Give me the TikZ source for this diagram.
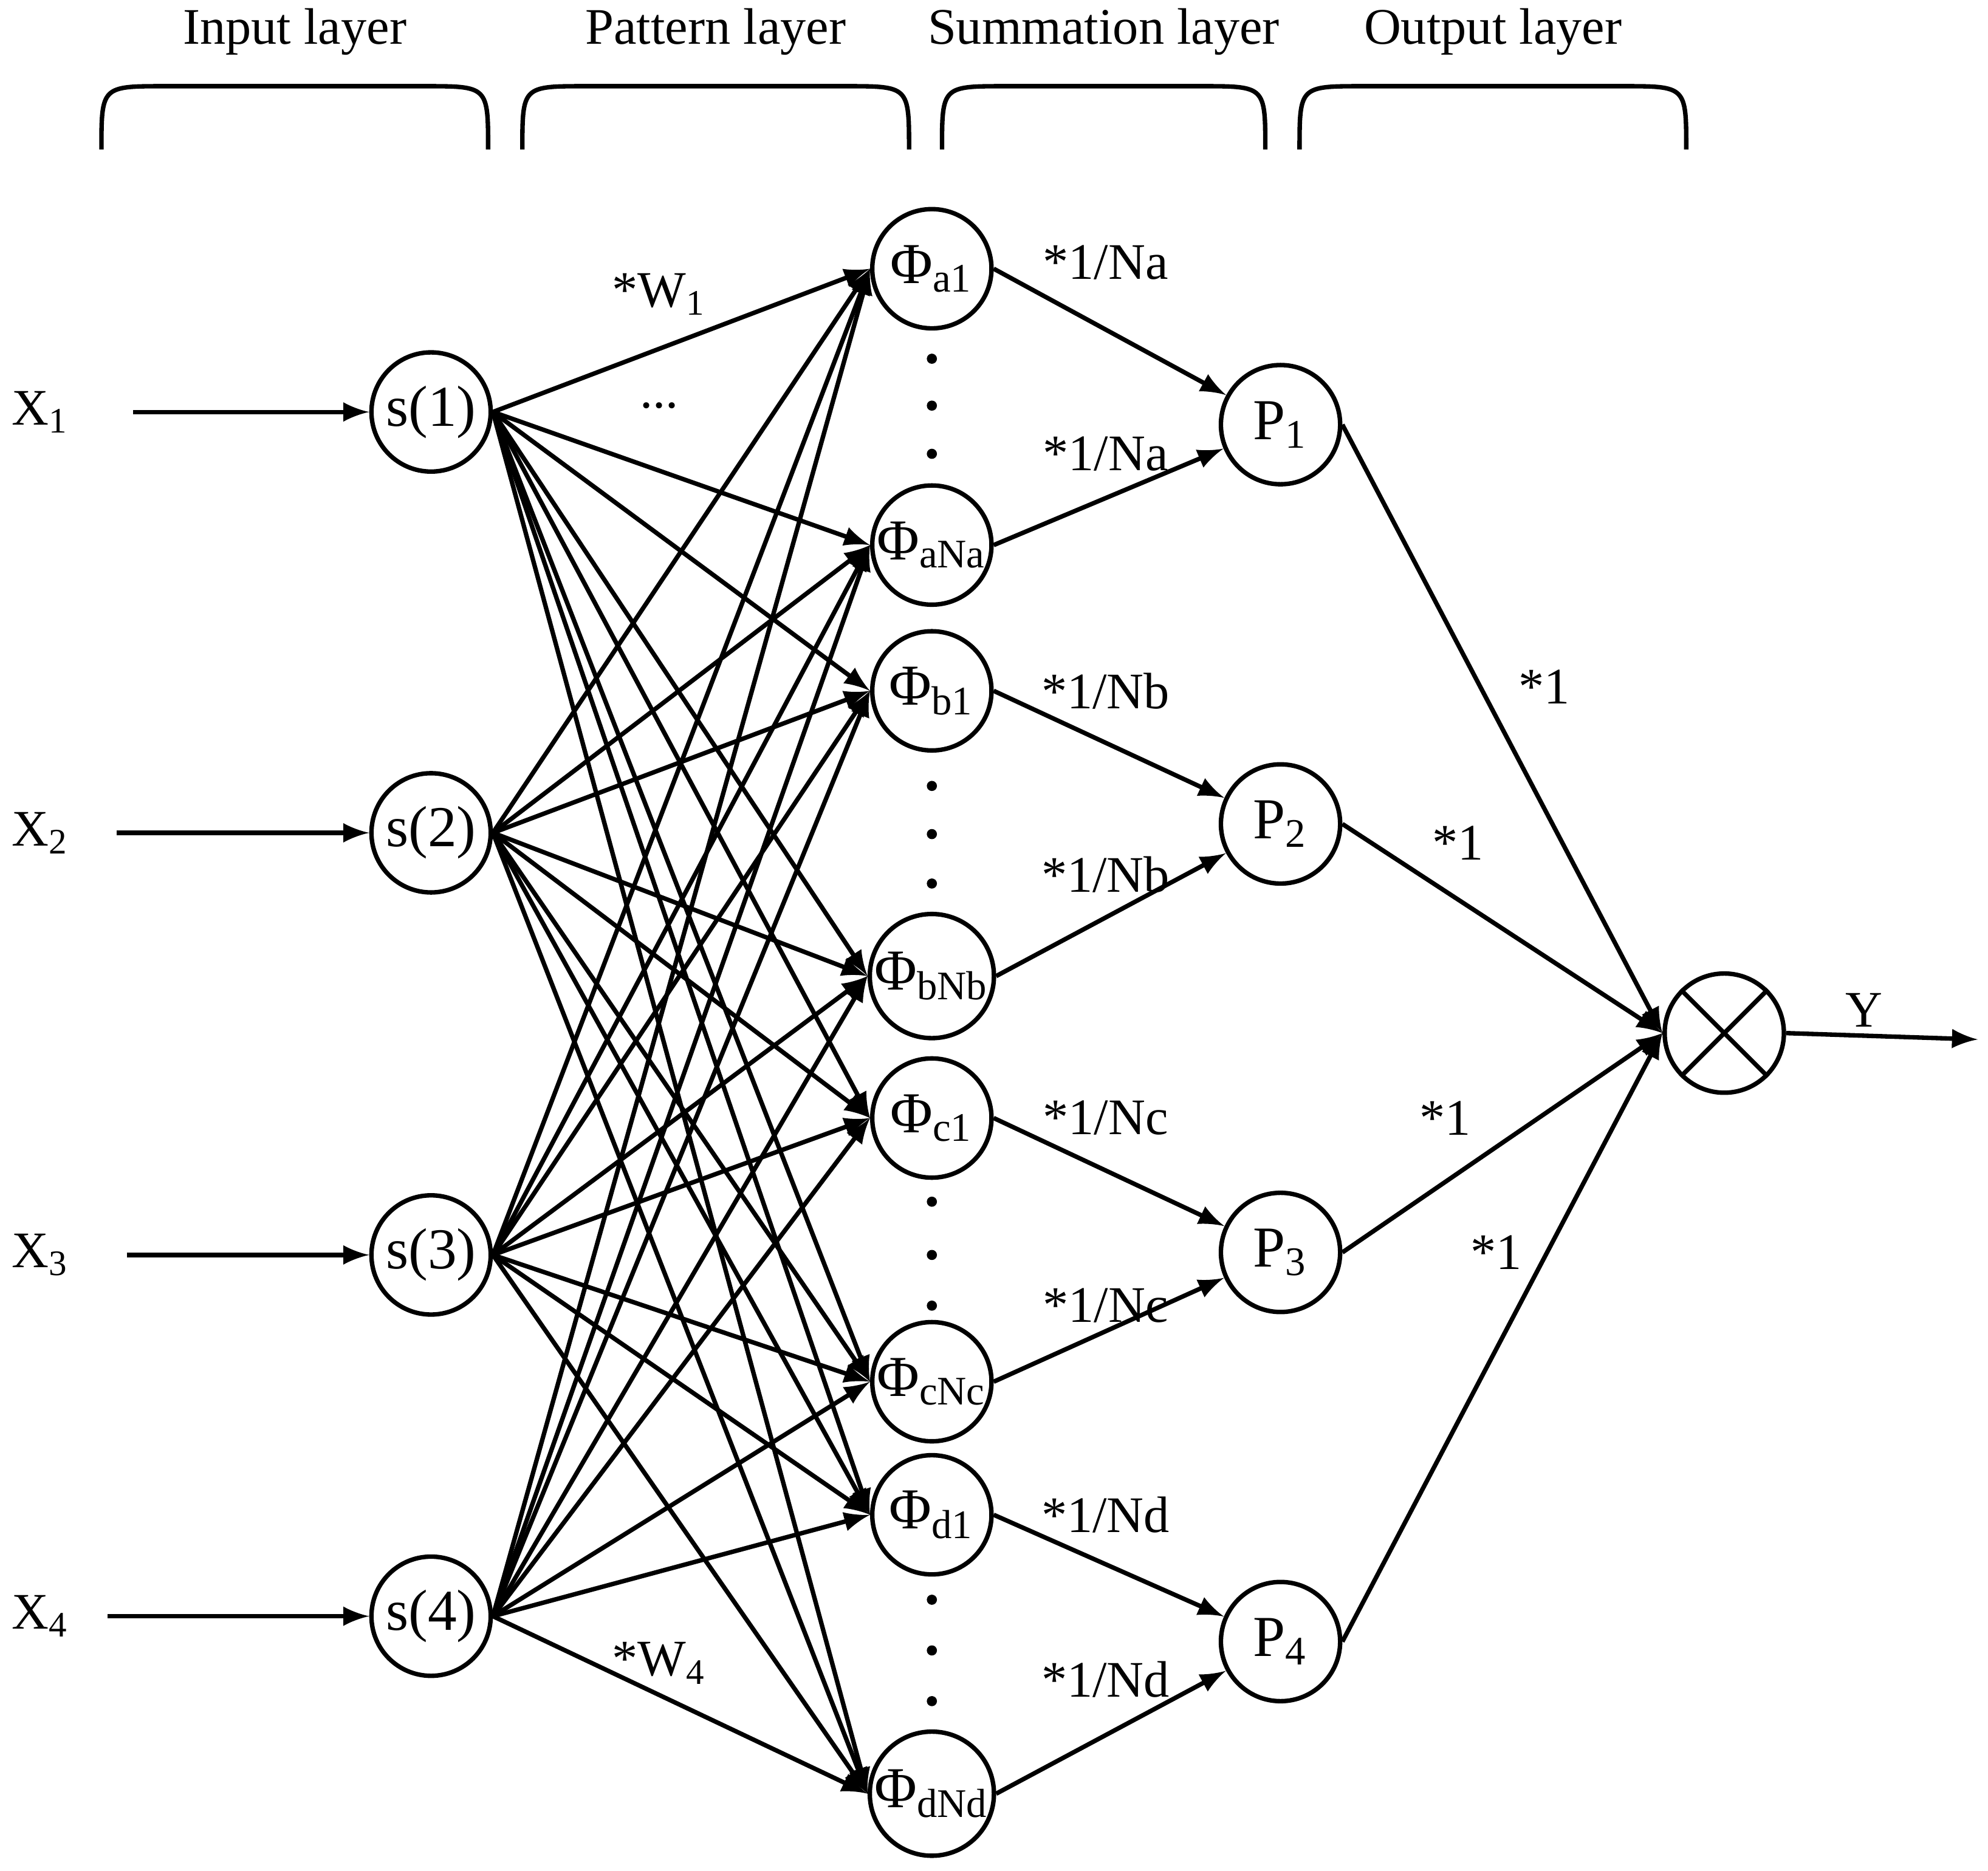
\documentclass[tikz,border=0pt]{standalone}
\usepackage{fontspec}
\setmainfont{Liberation Serif}
\usepackage{tikz}

\begin{document}
\begin{tikzpicture}[x=0.01cm,y=-0.01cm,
    neuron/.style={draw,circle,line width=1pt,minimum size=0.94cm,inner sep=0pt,font=\fontsize{13}{15}\selectfont},
    lbl/.style={font=\fontsize{11.5}{14}\selectfont},
    link/.style={line width=1pt,-latex}]
    \useasboundingbox (0,0) rectangle (1568,1476);

    % layer headers
    \foreach \x/\w/\t in {80/385/Input layer,412/717/Pattern layer,743/998/Summation layer,1025/1330/Output layer}{
      \draw[line width=1pt] (\x,118) .. controls (\x,68) .. (\x+50,68) -- (\w-50,68) .. controls (\w,68) .. (\w,118);
      \node[lbl] at ({(\x+\w)/2},25) {\t};
    }

    % input layer
    \foreach \i/\y/\xs in {1/325/105,2/657/92,3/990/100,4/1275/85}{
      \node[neuron] (s\i) at (340,\y) {s(\i)};
      \node[lbl] (x\i) at (32,\y) {X\textsubscript{\i}};
      \coordinate (in\i) at (\xs,\y);
      \draw[link] (in\i) -- (s\i);
    }

    % pattern layer
    \foreach \n/\y/\t in {1/212/a1,2/430/aNa,3/545/b1,4/770/bNb,5/882/c1,6/1090/cNc,7/1195/d1,8/1415/dNd}{
      \node[neuron] (f\n) at (735,\y) {Φ\textsubscript{\t}};
    }
    \foreach \y in {283,320,358,620,658,697,948,990,1030,1262,1302,1342}
      \fill (735,\y) circle (4);

    \foreach \i in {1,...,4}
      \foreach \n in {1,...,8}
        \draw[link] (s\i.east) -- (f\n.west);

    \node[lbl] (w1) at (520,232) {*W\textsubscript{1}};
    \node[lbl] (wd) at (520,320) {...};
    \node[lbl] (w4) at (520,1312) {*W\textsubscript{4}};

    % summation layer
    \foreach \k/\y in {1/335,2/650,3/988,4/1295}{
      \node[neuron] (p\k) at (1010,\y) {P\textsubscript{\k}};
    }
    \foreach \n/\k in {1/1,2/1,3/2,4/2,5/3,6/3,7/4,8/4}
      \draw[link] (f\n.east) -- (p\k);
    \foreach \y/\t in {207/Na,358/Na,545/Nb,690/Nb,882/Nc,1030/Nc,1195/Nd,1325/Nd}
      \node[lbl] at (872,\y) {*1/\t};

    % output layer
    \node[neuron] (out) at (1360,815) {};
    \draw[line width=1pt] (out.north west) -- (out.south east);
    \draw[line width=1pt] (out.north east) -- (out.south west);
    \foreach \k in {1,...,4}
      \draw[link] (p\k.east) -- (out.west);
    \node[lbl] (o1) at (1218,542) {*1};
    \node[lbl] (o2) at (1150,665) {*1};
    \node[lbl] (o3) at (1140,882) {*1};
    \node[lbl] (o4) at (1180,988) {*1};

    \coordinate (yend) at (1560,820);
    \draw[link] (out.east) -- (yend);
    \node[lbl] (y) at (1470,797) {Y};
\end{tikzpicture}
\end{document}
